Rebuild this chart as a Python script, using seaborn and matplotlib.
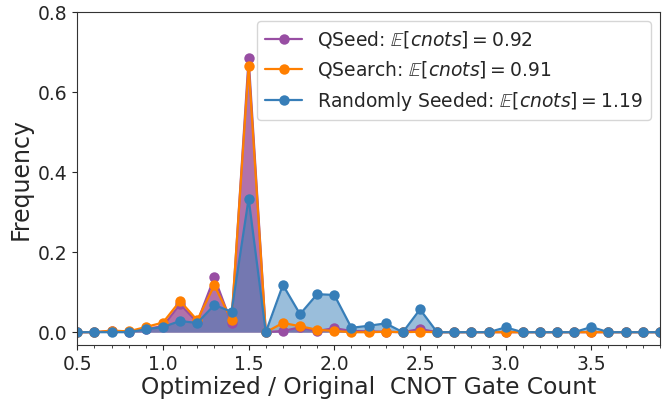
import matplotlib
matplotlib.use('Agg')
import matplotlib.pyplot as plt
import seaborn as sns
import pandas as pd
from matplotlib.ticker import MultipleLocator

# ratio bins 0.5 .. 3.9 in steps of 0.1
ratios = [round(0.5 + 0.1 * i, 1) for i in range(35)]

qseed = [0, 0, 0.003, 0.001, 0.008, 0.015, 0.07, 0.025, 0.137, 0.022,
         0.684, 0, 0.003, 0.012, 0.003, 0.01, 0.003, 0.002, 0.001, 0,
         0.008, 0, 0, 0, 0, 0, 0, 0, 0, 0,
         0, 0, 0, 0, 0]
qsearch = [0, 0, 0.004, 0.002, 0.013, 0.024, 0.078, 0.03, 0.117, 0.03,
           0.665, 0, 0.023, 0.015, 0.006, 0.003, 0, 0, 0.001, 0,
           0.001, 0, 0, 0, 0, 0, 0, 0, 0, 0,
           0, 0, 0, 0, 0]
random_seeded = [0, 0, 0, 0, 0.007, 0.013, 0.028, 0.023, 0.068, 0.051,
                 0.334, 0, 0.118, 0.045, 0.095, 0.093, 0.011, 0.016, 0.022, 0,
                 0.057, 0, 0, 0, 0, 0.012, 0, 0, 0, 0,
                 0.013, 0, 0, 0, 0]

labels = [r'QSeed: $\mathbb{E}[cnots] = 0.92$',
          r'QSearch: $\mathbb{E}[cnots] = 0.91$',
          r'Randomly Seeded: $\mathbb{E}[cnots] = 1.19$']
colors = ['#984ea3', '#ff7f00', '#377eb8']

df = pd.DataFrame({
    'ratio': ratios * 3,
    'freq': qseed + qsearch + random_seeded,
    'method': [labels[0]] * 35 + [labels[1]] * 35 + [labels[2]] * 35,
})

sns.set_style('ticks')
plt.rcParams['mathtext.fontset'] = 'dejavusans'

fig, ax = plt.subplots(figsize=(6.72, 4.0), dpi=100)
fig.subplots_adjust(left=0.115, right=0.982, top=0.97, bottom=0.1375)

# shaded areas under the curves
ax.fill_between(ratios, qsearch, 0, color=colors[1], alpha=0.25, lw=0)
ax.fill_between(ratios, qseed, 0, color=colors[0], alpha=0.75, lw=0)
ax.fill_between(ratios, random_seeded, 0, color=colors[2], alpha=0.5, lw=0)

sns.lineplot(data=df, x='ratio', y='freq', hue='method', palette=colors,
             marker='o', markersize=7.5, markeredgewidth=0, linewidth=1.6,
             ax=ax)

ax.set_xlim(0.5, 3.9)
ax.set_ylim(-0.032, 0.8)
ax.xaxis.set_major_locator(MultipleLocator(0.5))
ax.xaxis.set_minor_locator(MultipleLocator(0.1))
ax.yaxis.set_major_locator(MultipleLocator(0.2))
ax.tick_params(labelsize=13.5)
ax.set_xlabel('Optimized / Original  CNOT Gate Count', fontsize=16.8,
              labelpad=1.5)
ax.set_ylabel('Frequency', fontsize=17)
for s in ax.spines.values():
    s.set_color('#333333')

ax.legend(loc='upper right', fontsize=13.5, title=None)

fig.savefig('out.png', dpi=100)
